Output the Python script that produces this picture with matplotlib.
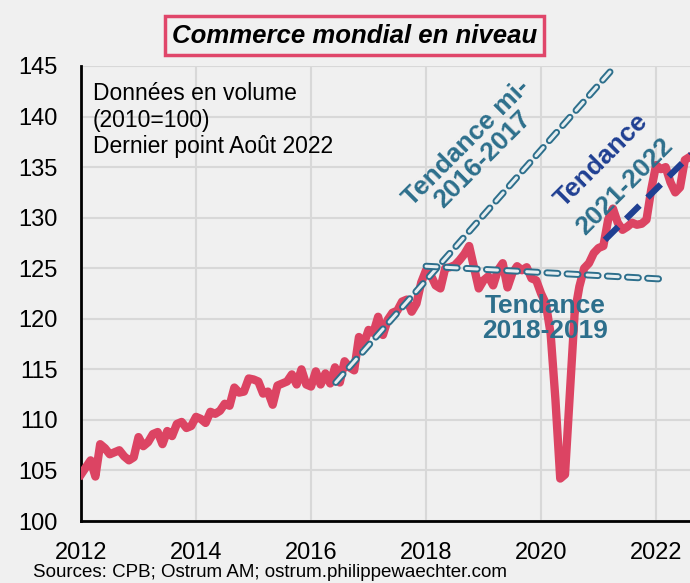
import matplotlib.pyplot as plt
import matplotlib.patheffects as pe
import numpy as np

plt.rcParams['font.family'] = ['Liberation Sans', 'DejaVu Sans']

# monthly world trade volume index (2010=100), Jan 2012 .. Aug 2022
trade_2012 = [104.6, 105.3, 106.0, 104.4, 107.6, 107.2, 106.6, 106.8, 107.0, 106.4, 106.0, 106.3]
trade_2013 = [108.3, 107.4, 107.8, 108.6, 108.8, 107.6, 108.9, 108.4, 109.6, 109.8, 109.2, 109.4]
trade_2014 = [110.3, 110.1, 109.7, 110.8, 110.6, 110.9, 111.6, 111.4, 113.2, 112.7, 112.8, 114.1]
trade_2015 = [114.0, 113.8, 112.6, 112.8, 111.5, 113.4, 113.6, 113.8, 114.5, 113.5, 115.0, 113.5]
trade_2016 = [113.3, 114.8, 113.5, 114.6, 113.6, 115.2, 113.7, 115.8, 115.2, 114.9, 118.2, 117.5]
trade_2017 = [118.9, 118.6, 120.2, 118.4, 119.9, 120.6, 120.8, 121.7, 121.9, 120.7, 121.5, 123.6]
trade_2018 = [124.8, 124.3, 123.3, 123.0, 125.0, 125.1, 125.3, 125.8, 126.4, 127.2, 125.1, 123.0]
trade_2019 = [123.8, 124.2, 123.3, 124.8, 125.5, 123.1, 124.5, 125.2, 124.8, 125.1, 124.0, 123.8]
trade_2020 = [122.5, 121.5, 118.5, 112.0, 104.2, 104.6, 112.5, 120.5, 123.2, 125.0, 125.5, 126.5]
trade_2021 = [127.0, 127.2, 129.8, 130.9, 129.5, 128.8, 129.1, 129.5, 129.3, 129.4, 129.8, 132.8]
trade_2022 = [135.2, 134.8, 135.0, 133.5, 132.5, 133.0, 135.7, 136.0]

# trend lines: (start year, start value), (end year, end value)
trend_2016_2017 = [(2016.43, 113.7), (2021.29, 145.0)]
trend_2018_2019 = [(2018.0, 125.2), (2022.2, 123.9)]
trend_2021_2022 = [(2021.11, 127.8), (2022.65, 136.5)]

year_ticks = [2012, 2014, 2016, 2018, 2020, 2022]
value_ticks = [100, 105, 110, 115, 120, 125, 130, 135, 140, 145]

RED = '#dc4463'
TEAL = '#2d6f8c'
NAVY = '#1f3f92'
BG = '#f0f0f0'


def main():
    values = (trade_2012 + trade_2013 + trade_2014 + trade_2015 + trade_2016
              + trade_2017 + trade_2018 + trade_2019 + trade_2020 + trade_2021
              + trade_2022)
    t = 2012 + np.arange(len(values)) / 12.0

    fig = plt.figure(figsize=(6.9, 5.83), dpi=100, facecolor=BG)
    ax = fig.add_axes([0.1174, 0.1063, 0.8826, 0.7805], facecolor=BG)

    ax.set_xlim(2012, 2022.59)
    ax.set_ylim(100, 145)
    ax.set_xticks(year_ticks)
    ax.set_yticks(value_ticks)
    ax.tick_params(length=0, labelsize=17, colors='black')
    ax.tick_params(axis='x', pad=15)
    ax.tick_params(axis='y', pad=17)
    ax.grid(True, color='#d8d8d8', lw=1.5)
    ax.set_axisbelow(True)
    for s in ['top', 'right']:
        ax.spines[s].set_visible(False)
    for s in ['left', 'bottom']:
        ax.spines[s].set_linewidth(2)
        ax.spines[s].set_color('black')

    ax.plot(t, values, color=RED, lw=6, solid_joinstyle='round', zorder=3)

    # hollow dashed trends
    hollow = [pe.Stroke(linewidth=5, foreground=TEAL), pe.Normal()]
    for tr in [trend_2016_2017, trend_2018_2019]:
        xs, ys = zip(*tr)
        ax.plot(xs, ys, color='#e6eef1', lw=2.2, dashes=(3.6, 3.0),
                dash_capstyle='round', path_effects=hollow, zorder=4, clip_on=False)
    xs, ys = zip(*trend_2021_2022)
    ax.plot(xs, ys, color=NAVY, lw=4.5, dashes=(3.0, 1.8), zorder=5)

    # annotations
    ax.text(2012.2, 143.4, 'Données en volume\n(2010=100)\nDernier point Août 2022',
            fontsize=16.5, va='top', ha='left', linespacing=1.2)
    ax.text(2018.84, 136.6, 'Tendance mi-\n2016-2017', color=TEAL, fontsize=19,
            fontweight='bold', rotation=45, ha='center', va='center',
            rotation_mode='anchor', linespacing=1.0)
    ax.text(2021.05, 135.7, 'Tendance', color=NAVY, fontsize=19,
            fontweight='bold', rotation=45, ha='center', va='center',
            rotation_mode='anchor')
    ax.text(2021.46, 133.1, '2021-2022', color=TEAL, fontsize=19,
            fontweight='bold', rotation=45, ha='center', va='center',
            rotation_mode='anchor')
    ax.text(2020.07, 120.0, 'Tendance\n2018-2019', color=TEAL, fontsize=19,
            fontweight='bold', ha='center', va='center', linespacing=1.05)

    fig.text(0.514, 0.939, 'Commerce mondial en niveau', fontsize=18.5,
             fontweight='bold', fontstyle='italic', ha='center', va='center',
             bbox=dict(boxstyle='square,pad=0.28', fc=BG, ec='#e0466a', lw=2.5))
    fig.text(0.048, 0.004, 'Sources: CPB; Ostrum AM; ostrum.philippewaechter.com',
             fontsize=13.5, ha='left', va='bottom')

    fig.savefig('out.png', dpi=100, facecolor=BG)


if __name__ == '__main__':
    main()
